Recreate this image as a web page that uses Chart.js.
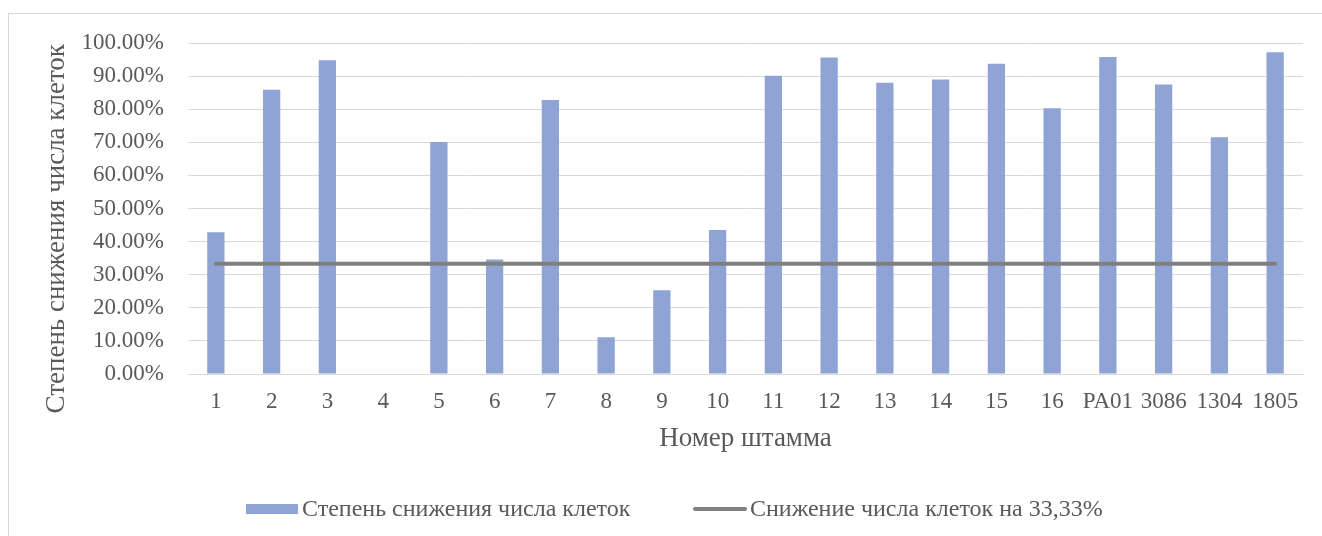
<!DOCTYPE html>
<html lang="ru">
<head>
<meta charset="utf-8">
<script src="https://cdn.jsdelivr.net/npm/chart.js@4.4.1/dist/chart.umd.min.js"></script>
<style>
  html, body { margin: 0; padding: 0; background: #ffffff; }
  #wrap { width: 1322px; height: 536px; position: relative; }
</style>
</head>
<body>
<div id="wrap"><canvas id="grafica" width="1322" height="536"></canvas></div>
<script>
// Номера штаммов (категории оси X)
const shtammy = ['1', '2', '3', '4', '5', '6', '7', '8', '9', '10', '11', '12', '13', '14', '15', '16', 'PA01', '3086', '1304', '1805'];
// Степень снижения числа клеток, %
const snizhenie = [42.8, 85.9, 94.8, 0, 70.1, 34.6, 82.8, 11.1, 25.3, 43.5, 90.1, 95.6, 88.0, 89.0, 93.7, 80.3, 95.8, 87.5, 71.5, 97.2];
// Порог 33,33%
const porog = [33.33, 33.33, 33.33, 33.33, 33.33, 33.33, 33.33, 33.33, 33.33, 33.33, 33.33, 33.33, 33.33, 33.33, 33.33, 33.33, 33.33, 33.33, 33.33, 33.33];
// Деления оси Y
const yMin = 0;
const yMax = 100;
const yShag = 10;

const shrift = '"Times New Roman", "Liberation Serif", serif';
const cvetTeksta = '#595959';
const cvetStolb = '#8FA4D4';
const cvetLinii = '#7F7F7F';

// Рамка вокруг всей диаграммы
const ramka = {
    id: 'ramka',
    beforeDraw(chart) {
        const ctx = chart.ctx;
        ctx.save();
        ctx.strokeStyle = '#D9D9D9';
        ctx.lineWidth = 1;
        ctx.strokeRect(8.5, 13.5, 1330, 600);
        ctx.restore();
    }
};

// Легенда внизу, как в Excel (значок вплотную к тексту)
const legenda = {
    id: 'legenda',
    afterDraw(chart) {
        const ctx = chart.ctx;
        const y = 509;
        ctx.save();
        ctx.font = '24px ' + shrift;
        ctx.textBaseline = 'middle';

        // Столбцы
        ctx.fillStyle = cvetStolb;
        ctx.fillRect(246, y - 5, 52, 10);
        ctx.fillStyle = cvetTeksta;
        ctx.fillText(chart.data.datasets[1].label, 302, y + 1);

        // Линия порога
        ctx.strokeStyle = cvetLinii;
        ctx.lineWidth = 4;
        ctx.lineCap = 'round';
        ctx.beginPath();
        ctx.moveTo(695, y);
        ctx.lineTo(745, y);
        ctx.stroke();
        ctx.fillText(chart.data.datasets[0].label, 750, y + 1);
        ctx.restore();
    }
};

const ctx = document.getElementById('grafica').getContext('2d');
new Chart(ctx, {
    type: 'bar',
    data: {
        labels: shtammy,
        datasets: [
            {
                type: 'line',
                label: 'Снижение числа клеток на 33,33%',
                data: porog,
                borderColor: cvetLinii,
                backgroundColor: cvetLinii,
                borderWidth: 4,
                borderCapStyle: 'round',
                pointRadius: 0,
                order: 0
            },
            {
                label: 'Степень снижения числа клеток',
                data: snizhenie,
                backgroundColor: cvetStolb,
                borderWidth: 0,
                barPercentage: 0.31,
                categoryPercentage: 1,
                order: 1
            }
        ]
    },
    options: {
        responsive: false,
        animation: false,
        layout: { padding: { left: 41, top: 43, right: 19, bottom: 81 } },
        plugins: {
            tooltip: { enabled: false },
            legend: { display: false }
        },
        scales: {
            x: {
                grid: { display: false, drawTicks: false },
                border: { color: '#D9D9D9', width: 1 },
                ticks: { color: cvetTeksta, font: { family: shrift, size: 23 }, padding: 14, maxRotation: 0, autoSkip: false },
                title: {
                    display: true,
                    text: 'Номер штамма',
                    color: cvetTeksta,
                    font: { family: shrift, size: 27 },
                    padding: { top: 0, bottom: 0 }
                },
                afterFit(scale) { scale.height = 81; }
            },
            y: {
                min: yMin,
                max: yMax,
                grid: { color: '#D9D9D9', lineWidth: 1, drawTicks: false },
                border: { display: false },
                ticks: {
                    stepSize: yShag,
                    padding: 24,
                    color: cvetTeksta,
                    font: { family: shrift, size: 23 },
                    callback: (v) => v.toFixed(2) + '%'
                },
                title: {
                    display: true,
                    // пробелы в конце сдвигают подпись вниз, как в исходнике
                    text: 'Степень снижения числа клеток      ',
                    color: cvetTeksta,
                    font: { family: shrift, size: 27 },
                    padding: 0
                },
                afterFit(scale) { scale.width = 188 - 41; }
            }
        }
    },
    plugins: [ramka, legenda]
});
</script>
</body>
</html>
